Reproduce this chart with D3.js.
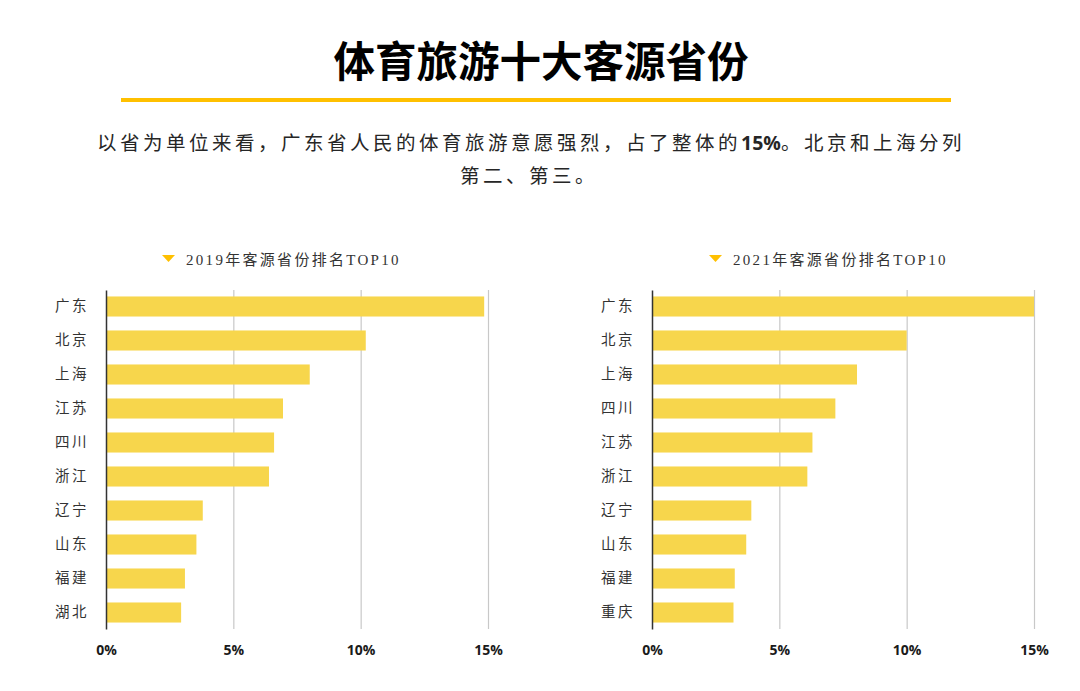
<!DOCTYPE html>
<html><head><meta charset="utf-8">
<script src="https://cdn.jsdelivr.net/npm/d3@7"></script>
<style>
html,body{margin:0;padding:0;background:#fff;}
svg{display:block;}
</style></head>
<body>
<svg id="chart" width="1080" height="691"></svg>
<script>
const titleText = "体育旅游十大客源省份";
const paraLine1 = ["以省为单位来看，广东省人民的体育旅游意愿强烈，占了整体的", "15%", "。北京和上海分列"];
const paraLine2 = "第二、第三。";

const cats2019 = ["广东","北京","上海","江苏","四川","浙江","辽宁","山东","福建","湖北"];
const vals2019 = [14.85, 10.2, 8.0, 6.95, 6.6, 6.4, 3.8, 3.55, 3.1, 2.95];
const cats2021 = ["广东","北京","上海","四川","江苏","浙江","辽宁","山东","福建","重庆"];
const vals2021 = [15.0, 10.0, 8.05, 7.2, 6.3, 6.1, 3.9, 3.7, 3.25, 3.2];
const tickValues = [0, 5, 10, 15];
const subtitles = ["2019年客源省份排名TOP10", "2021年客源省份排名TOP10"];

const svg = d3.select("#chart");
const CJK = "'Noto Sans CJK SC', 'Noto Sans', sans-serif";

// Title
svg.append("text").attr("x", 541).attr("y", 77).attr("text-anchor", "middle")
  .style("font-family", CJK).style("font-weight", 700).style("font-size", "41.5px")
  .attr("fill", "#000").text(titleText);

svg.append("rect").attr("x", 121).attr("y", 98).attr("width", 830).attr("height", 4).attr("fill", "#FFC000");

// Paragraph
const p1 = svg.append("text").attr("x", 531).attr("y", 150).attr("text-anchor", "middle")
  .style("font-family", CJK).style("font-size", "19.5px").style("letter-spacing", "3.5px").attr("fill", "#262626");
p1.append("tspan").text(paraLine1[0]);
p1.append("tspan").style("font-weight", 700).style("letter-spacing", "0px").style("font-family", "'Open Sans', 'Noto Sans', sans-serif").text(paraLine1[1]);
p1.append("tspan").text(paraLine1[2]);

svg.append("text").attr("x", 529).attr("y", 183).attr("text-anchor", "middle")
  .style("font-family", CJK).style("font-size", "19.5px").style("letter-spacing", "3.5px").attr("fill", "#262626")
  .text(paraLine2);

function drawPanel(x0, x1, cats, vals, subtitle, triX) {
  const x = d3.scaleLinear().domain([0, 15]).range([x0, x1]);
  const y = d3.scaleBand().domain(cats).range([290, 629]).paddingInner(0.41).paddingOuter(0.19);
  const g = svg.append("g");

  // subtitle
  g.append("path").attr("d", `M${triX},255 L${triX + 13},255 L${triX + 6.5},262 Z`).attr("fill", "#FFC000");
  g.append("text").attr("x", triX + 24).attr("y", 265)
    .style("font-family", "'Liberation Serif', " + CJK).style("font-size", "15px").style("letter-spacing", "2.3px")
    .attr("fill", "#333").text(subtitle);

  // gridlines
  const grid = d3.axisBottom(x).tickValues(tickValues.slice(1)).tickSize(-(629 - 290)).tickFormat("");
  const gg = g.append("g").attr("transform", "translate(0,629)").call(grid);
  gg.select(".domain").remove();
  gg.selectAll("line").attr("stroke", "#c8c8c8").attr("stroke-width", 1.2);

  // bars
  g.selectAll("rect.bar").data(cats).enter().append("rect")
    .attr("class", "bar")
    .attr("x", x(0))
    .attr("y", d => y(d))
    .attr("width", (d, i) => x(vals[i]) - x(0))
    .attr("height", y.bandwidth())
    .attr("fill", "#F7D64C");

  // x axis labels
  const xa = d3.axisBottom(x).tickValues(tickValues).tickSize(0).tickPadding(0).tickFormat(d => d + "%");
  const xg = g.append("g").attr("transform", "translate(0,629)").call(xa);
  xg.select(".domain").remove();
  xg.selectAll("text").attr("dy", "26px").attr("fill", "#1a1a1a")
    .style("font-family", "'Open Sans', 'Liberation Sans', sans-serif").style("font-weight", 700).style("font-size", "14px");

  // y axis
  const ya = d3.axisLeft(y).tickSize(0).tickPadding(17);
  const yg = g.append("g").attr("transform", `translate(${x0},0)`).call(ya);
  yg.select(".domain").attr("stroke", "#333").attr("stroke-width", 1.5);
  yg.selectAll("text").attr("fill", "#333").style("font-family", CJK).style("font-size", "14.5px").style("letter-spacing", "2.5px");
}

drawPanel(106, 488, cats2019, vals2019, subtitles[0], 162);
drawPanel(652, 1034, cats2021, vals2021, subtitles[1], 709);
</script>
</body></html>
